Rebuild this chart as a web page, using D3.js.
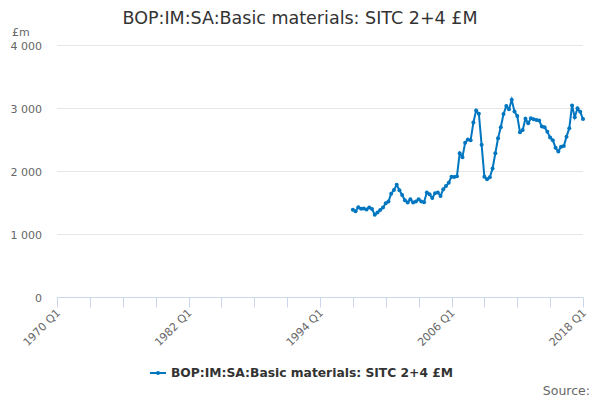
<!DOCTYPE html>
<html>
<head>
<meta charset="utf-8">
<script src="https://cdn.jsdelivr.net/npm/d3@7"></script>
<style>
body { margin: 0; background: #fff; }
svg { font-family: "DejaVu Sans", sans-serif; }
.grid line { stroke: #e6e6e6; }
.y-label { font-size: 11px; fill: #666; }
.x-label { font-size: 11px; fill: #666; }
.x-axis line, .x-axis path { stroke: #ccd6eb; }
.title { font-size: 17.5px; fill: #333; }
.legend-text { font-size: 12.3px; font-weight: bold; fill: #333; }
.source { font-size: 12.5px; fill: #666; }
</style>
</head>
<body>
<div id="chart"></div>
<script>
var title = "BOP:IM:SA:Basic materials: SITC 2+4 £M",
    seriesName = "BOP:IM:SA:Basic materials: SITC 2+4 £M",
    unit = "£m",
    firstYear = 1997,
    // quarterly values from 1997 Q1 to 2018 Q1
    values = [
        1385, 1360, 1425, 1400,
        1405, 1390, 1420, 1395,
        1305, 1340, 1380, 1420,
        1490, 1515, 1640, 1700,
        1780, 1695, 1620, 1535,
        1500, 1550, 1500, 1515,
        1550, 1515, 1505, 1660,
        1630, 1570, 1645, 1660,
        1605, 1710, 1760, 1815,
        1910, 1905, 1915, 2280,
        2220, 2450, 2500, 2490,
        2770, 2960, 2910, 2415,
        1910, 1870, 1900, 2040,
        2280, 2520, 2695, 2905,
        3030, 2980, 3130, 2945,
        2875, 2615, 2650, 2830,
        2757, 2836, 2820, 2810,
        2800, 2705, 2695, 2625,
        2530, 2490, 2370, 2310,
        2385, 2395, 2545, 2680,
        3040, 2855, 2995, 2940,
        2825
    ],
    yTicks = [0, 1000, 2000, 3000, 4000],
    xTickYears = [1970, 1973, 1976, 1979, 1982, 1985, 1988, 1991, 1994, 1997, 2000, 2003, 2006, 2009, 2012, 2015, 2018],
    xLabels = ["1970 Q1", "1982 Q1", "1994 Q1", "2006 Q1", "2018 Q1"];

var margin = {top: 45, right: 17, bottom: 103, left: 57},
    widthGlobal = 600,
    heightGlobal = 400,
    width = widthGlobal - margin.left - margin.right,
    height = heightGlobal - margin.top - margin.bottom;

var points = values.map(function (v, i) {
    return {date: new Date(firstYear + Math.floor(i / 4), (i % 4) * 3, 1), value: v};
});

var x = d3.scaleTime()
        .domain([new Date(1970, 0, 1), new Date(2018, 0, 1)])
        .range([0, width]),
    y = d3.scaleLinear()
        .domain([0, 4000])
        .range([height, 0]),
    fmt = function (d) { return d3.format(",")(d).replace(/,/g, " "); };

var svg = d3.select("#chart").append("svg")
        .attr("width", widthGlobal)
        .attr("height", heightGlobal),
    g = svg.append("g")
        .attr("transform", "translate(" + margin.left + "," + margin.top + ")");

svg.append("text")
    .attr("class", "title")
    .attr("x", widthGlobal / 2)
    .attr("y", 24)
    .attr("text-anchor", "middle")
    .text(title);

svg.append("text")
    .attr("class", "y-label")
    .attr("x", 12)
    .attr("y", 36)
    .text(unit);

// gridlines + y labels
g.append("g").attr("class", "grid").selectAll("line")
    .data(yTicks.slice(1))
    .enter().append("line")
    .attr("x1", 0)
    .attr("x2", width)
    .attr("y1", function (d) { return Math.round(y(d)) + 0.5; })
    .attr("y2", function (d) { return Math.round(y(d)) + 0.5; });

g.append("g").selectAll("text")
    .data(yTicks)
    .enter().append("text")
    .attr("class", "y-label")
    .attr("x", -15)
    .attr("y", function (d) { return y(d) + 5; })
    .attr("text-anchor", "end")
    .text(fmt);

// x axis
var xAxis = g.append("g")
    .attr("class", "x-axis")
    .attr("transform", "translate(0," + (Math.round(height) + 0.5) + ")");
xAxis.append("line")
    .attr("x1", 0)
    .attr("x2", width);
xAxis.selectAll(".tick")
    .data(xTickYears)
    .enter().append("line")
    .attr("class", "tick")
    .attr("x1", function (d) { return Math.round(x(new Date(d, 0, 1))) + 0.5; })
    .attr("x2", function (d) { return Math.round(x(new Date(d, 0, 1))) + 0.5; })
    .attr("y1", 0)
    .attr("y2", 10);
xAxis.selectAll(".x-label")
    .data(xLabels)
    .enter().append("text")
    .attr("class", "x-label")
    .attr("text-anchor", "end")
    .attr("transform", function (d) {
        var yr = +d.slice(0, 4);
        return "translate(" + (x(new Date(yr, 0, 1)) + 4) + ",16) rotate(-45)";
    })
    .text(function (d) { return d; });

// series
var line = d3.line()
    .x(function (d) { return x(d.date); })
    .y(function (d) { return y(d.value); });

g.append("path")
    .datum(points)
    .attr("fill", "none")
    .attr("stroke", "#0076c0")
    .attr("stroke-width", 2)
    .attr("d", line);

g.append("g").selectAll("circle")
    .data(points)
    .enter().append("circle")
    .attr("cx", function (d) { return x(d.date); })
    .attr("cy", function (d) { return y(d.value); })
    .attr("r", 2)
    .attr("fill", "#0076c0");

// legend
var legend = svg.append("g").attr("transform", "translate(150,373)");
legend.append("line")
    .attr("x1", 0).attr("x2", 16)
    .attr("y1", 0).attr("y2", 0)
    .attr("stroke", "#0076c0")
    .attr("stroke-width", 2);
legend.append("circle")
    .attr("cx", 8).attr("cy", 0).attr("r", 2)
    .attr("fill", "#0076c0");
legend.append("text")
    .attr("class", "legend-text")
    .attr("x", 21)
    .attr("y", 4)
    .text(seriesName);

svg.append("text")
    .attr("class", "source")
    .attr("x", 590)
    .attr("y", 395)
    .attr("text-anchor", "end")
    .text("Source:");
</script>
</body>
</html>
